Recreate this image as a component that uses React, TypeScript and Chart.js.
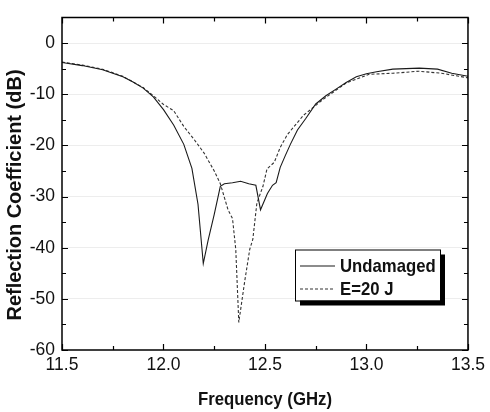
import React, { useEffect, useRef } from "react";
import { Chart, registerables } from "chart.js";

Chart.register(...registerables);

// Undamaged (solid)
const undamagedX = [11.5, 11.6, 11.7, 11.8, 11.85, 11.9, 11.95, 12.0, 12.05, 12.1, 12.14, 12.17, 12.196, 12.22, 12.25, 12.28, 12.3, 12.34, 12.38, 12.42, 12.455, 12.478, 12.512, 12.537, 12.555, 12.575, 12.6, 12.625, 12.66, 12.7, 12.75, 12.8, 12.85, 12.9, 12.95, 13.0, 13.05, 13.13, 13.26, 13.35, 13.42, 13.5];
const undamagedY = [-3.8, -4.4, -5.2, -6.6, -7.6, -8.8, -10.5, -13.0, -16.0, -19.8, -24.5, -31.5, -43.1, -38.5, -33.5, -28.0, -27.5, -27.3, -27.0, -27.5, -27.8, -32.6, -29.4, -27.8, -27.3, -24.3, -22.0, -19.8, -17.0, -14.8, -11.9, -10.3, -9.0, -7.7, -6.6, -6.0, -5.6, -5.1, -4.9, -5.1, -5.9, -6.5];

// E=20 J (dashed)
const damagedX = [11.5, 11.6, 11.7, 11.8, 11.9, 11.95, 12.0, 12.05, 12.1, 12.15, 12.2, 12.25, 12.28, 12.318, 12.34, 12.356, 12.371, 12.4, 12.425, 12.44, 12.46, 12.49, 12.51, 12.546, 12.575, 12.61, 12.69, 12.79, 12.9, 13.013, 13.13, 13.257, 13.37, 13.5];
const damagedY = [-3.7, -4.3, -5.1, -6.5, -8.7, -10.3, -12.0, -13.2, -16.3, -18.8, -21.5, -25.0, -27.5, -32.6, -34.3, -40.3, -54.6, -46.6, -40.3, -38.4, -31.3, -28.0, -24.6, -23.3, -20.4, -17.9, -14.1, -10.9, -7.8, -6.1, -5.9, -5.5, -5.9, -6.8];

const seriesNames = ["Undamaged", "E=20 J"];
const xTickValues = [11.5, 12.0, 12.5, 13.0, 13.5];
const yTickValues = [-60, -50, -40, -30, -20, -10, 0];

const X_MIN = 11.5, X_MAX = 13.5, Y_MIN = -60, Y_MAX = 5;
const FONT = "'Liberation Sans', Arial, Helvetica, sans-serif";

const toPoints = (xs: number[], ys: number[]) => xs.map((x, i) => ({ x, y: ys[i] }));

const framePlugin = {
  id: "frame",
  afterDatasetsDraw(chart: any) {
    const { ctx, chartArea: a, scales } = chart;
    const xs = scales.x, ys = scales.y;
    ctx.save();
    ctx.strokeStyle = "#000";
    ctx.lineWidth = 1.5;
    ctx.strokeRect(a.left, a.top, a.right - a.left, a.bottom - a.top);
    ctx.lineWidth = 1.2;
    ctx.beginPath();
    for (let v = X_MIN; v <= X_MAX + 1e-9; v += 0.25) {
      const major = Math.abs(v * 2 - Math.round(v * 2)) < 1e-6;
      const len = major ? 6 : 4;
      const px = Math.round(xs.getPixelForValue(v)) + 0.5;
      ctx.moveTo(px, a.bottom); ctx.lineTo(px, a.bottom - len);
      ctx.moveTo(px, a.top); ctx.lineTo(px, a.top + len);
    }
    for (let v = Y_MIN; v <= 0 + 1e-9; v += 5) {
      const major = v % 10 === 0;
      const len = major ? 6 : 4;
      const py = Math.round(ys.getPixelForValue(v)) + 0.5;
      ctx.moveTo(a.left, py); ctx.lineTo(a.left + len, py);
      ctx.moveTo(a.right, py); ctx.lineTo(a.right - len, py);
    }
    ctx.stroke();

    // Legend with drop shadow
    const bx = a.left + 233, by = a.top + 232, bw = 145, bh = 51;
    ctx.fillStyle = "#000";
    ctx.fillRect(bx + 5, by + 5, bw, bh);
    ctx.fillStyle = "#fff";
    ctx.fillRect(bx, by, bw, bh);
    ctx.strokeStyle = "#000";
    ctx.lineWidth = 1;
    ctx.strokeRect(bx + 0.5, by + 0.5, bw, bh);
    const rows = [by + 16, by + 39];
    chart.data.datasets.forEach((ds: any, i: number) => {
      ctx.save();
      ctx.strokeStyle = ds.borderColor;
      ctx.lineWidth = 1.1;
      ctx.setLineDash(ds.borderDash || []);
      ctx.beginPath();
      ctx.moveTo(bx + 5, rows[i] + 0.5);
      ctx.lineTo(bx + 40, rows[i] + 0.5);
      ctx.stroke();
      ctx.restore();
      ctx.save();
      ctx.fillStyle = "#111";
      ctx.font = `bold 19px ${FONT}`;
      ctx.textBaseline = "middle";
      ctx.translate(bx + 45, rows[i]);
      ctx.scale(0.88, 1);
      ctx.fillText(seriesNames[i], 0, 1);
      ctx.restore();
    });

    // Axis titles
    ctx.fillStyle = "#111";
    ctx.textAlign = "center";
    ctx.textBaseline = "middle";
    ctx.save();
    ctx.translate((a.left + a.right) / 2, 400);
    ctx.scale(0.93, 1);
    ctx.font = `bold 18px ${FONT}`;
    ctx.fillText("Frequency (GHz)", 0, 0);
    ctx.restore();
    ctx.save();
    ctx.translate(15, 195);
    ctx.rotate(-Math.PI / 2);
    ctx.font = `bold 20px ${FONT}`;
    ctx.fillText("Reflection Coefficient (dB)", 0, 0);
    ctx.restore();
    ctx.restore();
  },
};

export default function App() {
  const ref = useRef<HTMLCanvasElement | null>(null);
  useEffect(() => {
    if (!ref.current) return;
    const chart = new Chart(ref.current, {
      type: "line",
      data: {
        datasets: [
          {
            label: seriesNames[0],
            data: toPoints(undamagedX, undamagedY),
            borderColor: "#1a1a1a",
            borderWidth: 1.1,
            pointRadius: 0,
            tension: 0,
            fill: false,
          },
          {
            label: seriesNames[1],
            data: toPoints(damagedX, damagedY),
            borderColor: "#333",
            borderWidth: 1.1,
            borderDash: [3, 2],
            pointRadius: 0,
            tension: 0,
            fill: false,
          },
        ],
      },
      options: {
        animation: false,
        responsive: false,
        maintainAspectRatio: false,
        layout: { padding: { left: 0, top: 10, right: 17, bottom: 0 } },
        plugins: { legend: { display: false }, tooltip: { enabled: false }, title: { display: false } },
        scales: {
          x: {
            type: "linear",
            min: X_MIN,
            max: X_MAX,
            afterBuildTicks: (s: any) => { s.ticks = xTickValues.map((v) => ({ value: v })); },
            afterFit: (s: any) => { s.height = 62; },
            grid: { display: false, drawTicks: false },
            border: { display: false },
            ticks: {
              padding: 5,
              maxRotation: 0,
              autoSkip: false,
              color: "#111",
              font: { family: FONT, size: 17.5 },
              callback: (v: any) => Number(v).toFixed(1),
            },
          },
          y: {
            type: "linear",
            min: Y_MIN,
            max: Y_MAX,
            afterBuildTicks: (s: any) => { s.ticks = yTickValues.map((v) => ({ value: v })); },
            afterFit: (s: any) => { s.width = 62; },
            grid: {
              color: (c: any) => (c.tick && c.tick.value > Y_MIN ? "rgba(0,0,0,0.07)" : "rgba(0,0,0,0)"),
              drawTicks: false,
            },
            border: { display: false },
            ticks: {
              padding: 7,
              color: "#111",
              font: { family: FONT, size: 17.5 },
              callback: (v: any) => String(v),
            },
          },
        },
      },
      plugins: [framePlugin],
    });
    return () => chart.destroy();
  }, []);
  return (
    <div style={{ position: "fixed", left: 0, top: 0, width: 490, height: 412, background: "#fff" }}>
      <canvas ref={ref} width={490} height={412} style={{ width: 490, height: 412, display: "block" }} />
    </div>
  );
}
